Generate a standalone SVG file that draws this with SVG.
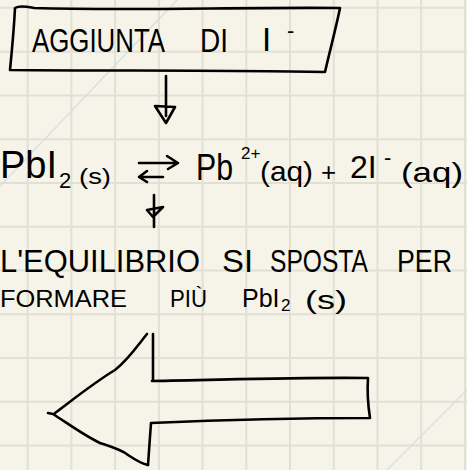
<svg xmlns="http://www.w3.org/2000/svg" width="467" height="470" viewBox="0 0 467 470">
<defs>
<style>
.bg{fill:#f6f4e9}
.grid{stroke:#e2e0d4;stroke-width:2;fill:none}
.guide{stroke:#cfe0df;stroke-width:1.2;fill:none}
.ink{stroke:#000;stroke-width:2.6;fill:none;stroke-linecap:round;stroke-linejoin:round}
.t{font-family:"Liberation Sans","DejaVu Sans",sans-serif;fill:#000}
</style>
</defs>
<rect class="bg" x="0" y="0" width="467" height="470"/>
<g id="grid" class="grid">
<path d="M27.7 0V470M71.4 0V470M115.1 0V470M158.9 0V470M202.6 0V470M246.3 0V470M290 0V470M333.8 0V470M377.5 0V470M421.2 0V470M465 0V470"/>
<path d="M0 7.7H467M0 51.7H467M0 95.5H467M0 139.3H467M0 183H467M0 226.8H467M0 270.5H467M0 314.3H467M0 358H467M0 401.8H467M0 445.5H467"/>
</g>
<g id="guides" class="guide">
<path d="M177 0L0 186"/>
<path d="M467 390L387 470"/>
</g>
<g id="connectors">
<path class="ink" d="M166 76V116M155 106L175 107L166 123Z"/>
<path class="ink" d="M154 195V227M147 210L163 207L153 217Z"/>
</g>
<g id="box-aggiunta">
<path class="ink" d="M15 8C20 5 28 7 34 8C130 11 240 7 340 8C336 28 330 50 325 72C220 70 110 71 10 70C12 50 14 28 15 8Z"/>
<text class="t" x="32" y="52" font-size="33" textLength="133" lengthAdjust="spacingAndGlyphs">AGGIUNTA</text>
<text class="t" x="200" y="52" font-size="33" textLength="28" lengthAdjust="spacingAndGlyphs">DI</text>
<text class="t" x="262" y="51" font-size="33">I</text>
<text class="t" x="287" y="38" font-size="22">-</text>
</g>
<g id="equation">
<text class="t" x="0" y="178" font-size="38">PbI</text>
<text class="t" x="59" y="188" font-size="22">2</text>
<text class="t" x="79" y="184" font-size="22" textLength="32" lengthAdjust="spacingAndGlyphs">(s)</text>
<path class="ink" d="M139 163L178 163M167 156L178 163L168 169M139 177L163 177M147 171L139 177L147 182"/>
<text class="t" x="196" y="180" font-size="36" textLength="37" lengthAdjust="spacingAndGlyphs">Pb</text>
<text class="t" x="241" y="159" font-size="17">2+</text>
<text class="t" x="260" y="181" font-size="28" textLength="53" lengthAdjust="spacingAndGlyphs">(aq)</text>
<text class="t" x="321" y="181" font-size="26">+</text>
<text class="t" x="350" y="178" font-size="32">2I</text>
<text class="t" x="384" y="165" font-size="22">-</text>
<text class="t" x="401" y="182" font-size="28" textLength="62" lengthAdjust="spacingAndGlyphs">(aq)</text>
</g>
<g id="conclusione">
<text class="t" x="0" y="272" font-size="31" textLength="200" lengthAdjust="spacingAndGlyphs">L'EQUILIBRIO</text>
<text class="t" x="222" y="272" font-size="31" textLength="31" lengthAdjust="spacingAndGlyphs">SI</text>
<text class="t" x="270" y="272" font-size="31" textLength="98" lengthAdjust="spacingAndGlyphs">SPOSTA</text>
<text class="t" x="397" y="272" font-size="31" textLength="55" lengthAdjust="spacingAndGlyphs">PER</text>
<text class="t" x="0" y="307" font-size="24" textLength="127" lengthAdjust="spacingAndGlyphs">FORMARE</text>
<text class="t" x="170" y="307" font-size="24" textLength="37" lengthAdjust="spacingAndGlyphs">PIÙ</text>
<text class="t" x="242" y="307" font-size="25">PbI</text>
<text class="t" x="281" y="311" font-size="17">2</text>
<text class="t" x="305" y="309" font-size="25" textLength="42" lengthAdjust="spacingAndGlyphs">(s)</text>
</g>
<g id="freccia-sinistra">
<path class="ink" d="M55 413C75 398 95 382 115 370C128 360 138 345 147 334"/>
<path class="ink" d="M153 334L153 360L153 380L152 381C220 380 300 377 368 378C367 392 368 405 370 418C300 418 220 420 151 423C150 437 149 450 148 465"/>
<path class="ink" d="M48 413L53 414C70 425 85 436 100 443C112 447 122 450 128 455C137 461 142 464 148 465"/>
</g>
</svg>
